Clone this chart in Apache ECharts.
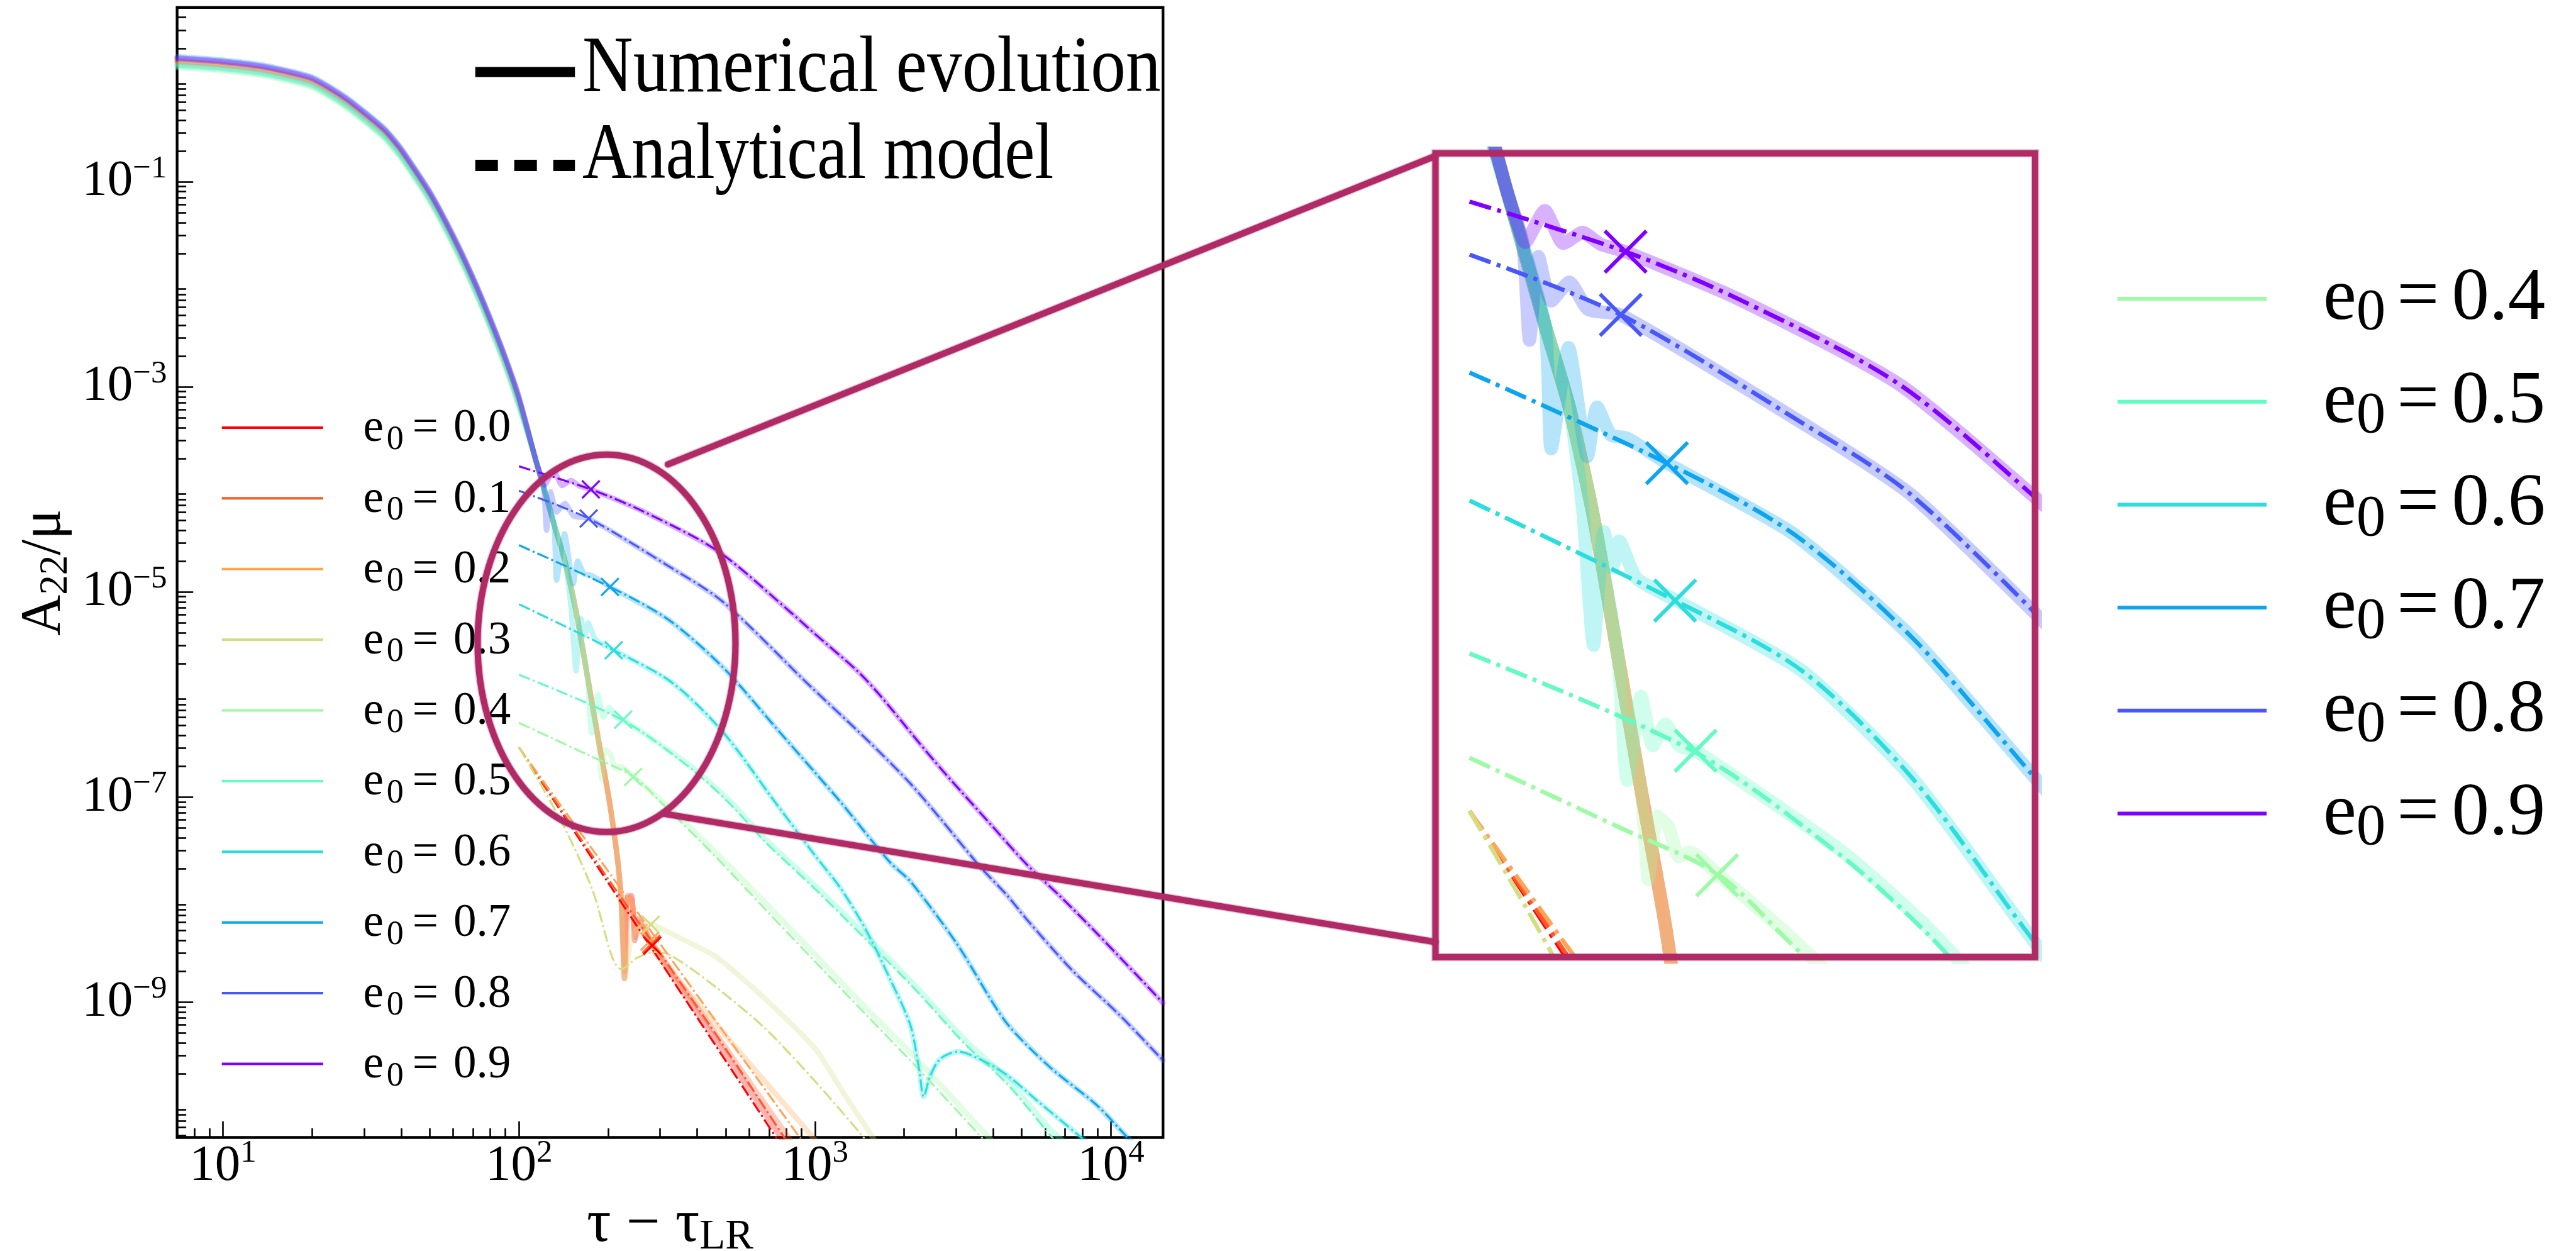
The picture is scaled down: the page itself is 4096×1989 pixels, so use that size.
<!DOCTYPE html>
<html>
<head>
<meta charset="utf-8">
<title>A22 tails</title>
<script src="https://cdn.jsdelivr.net/npm/echarts@6/dist/echarts.min.js"></script>
<style>
html,body{margin:0;padding:0;background:#ffffff;}
#chart{width:4096px;height:1989px;}
</style>
</head>
<body>
<div id="chart"></div>
<script>
// ---------------- data ----------------
const eccLabels = ['0.0','0.1','0.2','0.3','0.4','0.5','0.6','0.7','0.8','0.9'];
const eccColors = ['#ff0000','#ff572c','#ffa457','#d4dd80','#9cfba4','#63fbc3','#2bdddd','#0ea4f0','#4757fb','#8000ff'];

// common merger-ringdown trunk of the numerical evolutions
const trunkTau = [7, 10, 14, 20, 26, 35, 40, 50, 60, 70, 80, 90, 100, 114, 131, 143, 156, 170, 185, 202, 216];
const trunkAmp = [1.48, 1.37, 1.21, 0.94, 0.60, 0.30, 0.19, 0.072, 0.027, 0.0105, 4.2e-3, 1.75e-3, 7.2e-4, 1.93e-4, 4.7e-5, 2.0e-5, 6.4e-6, 1.56e-6, 3.8e-7, 9.2e-8, 2.3e-8];
// relative level of each e0 along the early trunk (spread of the band)
const trunkLevel = [1.0, 1.02, 0.98, 0.95, 0.88, 0.9, 0.93, 1.12, 1.07, 1.09];
// last trunk time used by each e0 before its own tail
const departTau = [216, 216, 216, 216, 185, 170, 143, 131, 114, 114];

// numerical evolution after leaving the trunk
const num0Tau = [222, 227, 231, 240, 246, 252, 282, 400, 600, 765, 800];
const num0Amp = [9e-9, 1.7e-9, 1.0e-8, 1.1e-8, 4.0e-9, 6.5e-9, 3.6e-9, 7.9e-10, 1.4e-10, 4.9e-11, 4.0e-11];
const num1Tau = [222, 228, 233, 241, 248, 256, 284, 420, 620, 810, 850];
const num1Amp = [9e-9, 2.0e-9, 1.1e-8, 1.0e-8, 4.3e-9, 6.0e-9, 3.7e-9, 7.4e-10, 1.47e-10, 4.9e-11, 3.9e-11];
const num2Tau = [222, 229, 235, 242, 250, 260, 284, 463, 681, 985, 1050];
const num2Amp = [9e-9, 1.8e-9, 1.0e-8, 9e-9, 4.6e-9, 5.6e-9, 3.2e-9, 6.1e-10, 1.66e-10, 4.8e-11, 3.9e-11];
const num3Tau = [222, 228, 240, 262, 280, 330, 463, 681, 1004, 1250, 1569, 1650];
const num3Amp = [9e-9, 1.7e-9, 4.2e-9, 6.0e-9, 5.8e-9, 4.6e-9, 2.77e-9, 1.07e-9, 3.5e-10, 1.3e-10, 4.8e-11, 3.7e-11];
const num4Tau = [190, 196, 204, 212, 220, 244, 313, 463, 681, 1004, 1486, 2183, 3545, 3900, 4100];
const num4Amp = [1.5e-7, 2.9e-7, 2.6e-7, 1.9e-7, 2.0e-7, 1.58e-7, 8.5e-8, 2.9e-8, 9.3e-9, 2.9e-9, 8.8e-10, 2.9e-10, 6.3e-11, 4.7e-11, 4.0e-11];
const num5Tau = [176, 185, 193, 202, 212, 225, 381, 514, 681, 1004, 1486, 2183, 3217, 4460, 6220, 6700, 7000];
const num5Amp = [4.2e-7, 1.0e-6, 6.0e-7, 7.5e-7, 6.0e-7, 5.7e-7, 2.0e-7, 9.3e-8, 3.9e-8, 1.36e-8, 4.5e-9, 1.45e-9, 4.3e-10, 1.8e-10, 5.8e-11, 4.8e-11, 4.2e-11];
const num6Tau = [150, 156, 162, 167, 171, 182, 211];
const num6Amp = [7e-6, 1.7e-6, 5.5e-6, 3.8e-6, 5.0e-6, 3.4e-6, 2.68e-6];
const num7Tau = [134, 142.6, 152.6, 158, 166, 176, 203];
const num7Amp = [1.3e-5, 3.7e-5, 1.2e-5, 2.0e-5, 1.5e-5, 1.45e-5, 1.12e-5];
const num8Tau = [121, 124, 128, 134, 143, 153, 172];
const num8Amp = [1.1e-4, 4.0e-5, 9.5e-5, 6.0e-5, 7.3e-5, 5.5e-5, 5.2e-5];
const num9Tau = [118, 122, 131, 140, 150, 160, 175];
const num9Amp = [1.4e-4, 1.1e-4, 1.53e-4, 1.09e-4, 1.22e-4, 1.08e-4, 1.0e-4];
// for these e0 the late numerical tail lies on the analytical curve
const numFollowsModel = [false, false, false, false, false, false, true, true, true, true];

// analytical model (dash-dot)
const ana0Tau = [100, 200, 282, 400, 600, 736, 780];
const ana0Amp = [3.05e-7, 1.47e-8, 3.3e-9, 7.1e-10, 1.2e-10, 4.9e-11, 3.8e-11];
const ana1Tau = [100, 200, 300, 500, 800, 840];
const ana1Amp = [3.05e-7, 1.6e-8, 3.0e-9, 3.5e-10, 4.5e-11, 3.7e-11];
const ana2Tau = [100, 200, 300, 500, 884, 930];
const ana2Amp = [3.05e-7, 1.9e-8, 3.7e-9, 4.8e-10, 4.9e-11, 4.0e-11];
const ana3Tau = [100, 139, 177, 207, 222, 250, 290, 330, 463, 681, 1004, 1452, 1520];
const ana3Amp = [3.05e-7, 5.8e-8, 1.25e-8, 2.7e-9, 2.1e-9, 2.7e-9, 3.1e-9, 2.8e-9, 1.4e-9, 5.5e-10, 1.68e-10, 4.9e-11, 4.0e-11];
const ana4Tau = [100, 170, 244, 313, 463, 681, 1004, 1486, 2183, 3545, 3800];
const ana4Amp = [5.3e-7, 2.6e-7, 1.58e-7, 8.0e-8, 2.6e-8, 8.0e-9, 2.47e-9, 7.6e-10, 2.4e-10, 5.3e-11, 4.2e-11];
const ana5Tau = [100, 225, 381, 514, 681, 1004, 1486, 2183, 3217, 4460, 6220, 6700];
const ana5Amp = [1.56e-6, 5.6e-7, 1.9e-7, 8.7e-8, 3.63e-8, 1.26e-8, 4.1e-9, 1.33e-9, 3.9e-10, 1.6e-10, 5.1e-11, 4.0e-11];
const ana6Tau = [100, 209, 330, 489, 726, 1000, 1219, 1486, 1796, 2100, 2250, 2330, 2450, 2650, 3050, 3500, 4400, 5690, 7870, 8600];
const ana6Amp = [7.6e-6, 2.7e-6, 1.3e-6, 4.3e-7, 9.3e-8, 2.7e-8, 1.3e-8, 5.1e-9, 1.67e-9, 6.0e-10, 2.2e-10, 1.2e-10, 1.9e-10, 2.8e-10, 3.3e-10, 2.9e-10, 2.0e-10, 1.07e-10, 4.9e-11, 3.9e-11];
const ana7Tau = [100, 203, 319, 489, 760, 1000, 1219, 1796, 2104, 3020, 4400, 6220, 8930, 11300, 12500];
const ana7Amp = [2.86e-5, 1.12e-5, 5.4e-6, 1.84e-6, 4.3e-7, 1.74e-7, 9.0e-8, 2.3e-8, 1.5e-8, 3.7e-9, 6.5e-10, 2.33e-10, 1.0e-10, 4.9e-11, 3.7e-11];
const ana8Tau = [100, 172, 319, 489, 949, 1365, 1663, 2104, 2650, 3612, 4460, 5200, 7460, 10700, 15000];
const ana8Amp = [9.7e-5, 5.2e-5, 1.8e-5, 8.0e-6, 1.26e-6, 4.7e-7, 2.7e-7, 1.35e-7, 6.2e-8, 2.1e-8, 1.1e-8, 6.4e-9, 2.0e-9, 7.5e-10, 2.7e-10];
const ana9Tau = [100, 175, 263, 470, 830, 1000, 1390, 1650, 2400, 2860, 4000, 5200, 6800, 8900, 12800, 15000];
const ana9Amp = [1.68e-4, 1.0e-4, 6.1e-5, 2.5e-5, 6.3e-6, 3.9e-6, 1.7e-6, 1.0e-6, 2.7e-7, 1.5e-7, 5.1e-8, 2.2e-8, 1.05e-8, 4.8e-9, 1.6e-9, 9.8e-10];

// cross markers
const crossTau = [282, 280, 276, 279, 243, 225, 209, 203, 172, 175];
const crossAmp = [3.56e-9, 3.7e-9, 3.9e-9, 5.7e-9, 1.57e-7, 5.7e-7, 2.7e-6, 1.12e-5, 5.2e-5, 1.0e-4];

// axes
const xRange = [7, 15000];
const yRange = [4.8e-11, 5];
const insetXRange = [88.5, 760];
const insetYRange = [6.73e-8, 2.77e-4];
const xMajorTicks = [10, 100, 1000, 10000];
const xTickExps = ['1', '2', '3', '4'];
const yMajorTicks = [1e-9, 1e-7, 1e-5, 1e-3, 1e-1];
const yTickExps = ['\u22129', '\u22127', '\u22125', '\u22123', '\u22121'];
const xTitle = '{t|\u03c4 \u2212 \u03c4}{s|LR}';
const yTitle = '{a|A}{s|22}{a|/\u03bc}';
const legendNumerical = 'Numerical evolution';
const legendAnalytical = 'Analytical model';
const inlineLegendIdx = [0,1,2,3,4,5,6,7,8,9];
const sideLegendIdx = [4,5,6,7,8,9];

// ---------------- layout ----------------
const FONT = 'Liberation Serif';
const MAROON = '#b02a66';
const MAIN = {left: 281.6, top: 11.9, width: 1567.7, height: 1796.6};
const INSET = {left: 2282.5, top: 243.7, width: 953.4, height: 1278};

const numTauSets = [num0Tau,num1Tau,num2Tau,num3Tau,num4Tau,num5Tau,num6Tau,num7Tau,num8Tau,num9Tau];
const numAmpSets = [num0Amp,num1Amp,num2Amp,num3Amp,num4Amp,num5Amp,num6Amp,num7Amp,num8Amp,num9Amp];
const anaTauSets = [ana0Tau,ana1Tau,ana2Tau,ana3Tau,ana4Tau,ana5Tau,ana6Tau,ana7Tau,ana8Tau,ana9Tau];
const anaAmpSets = [ana0Amp,ana1Amp,ana2Amp,ana3Amp,ana4Amp,ana5Amp,ana6Amp,ana7Amp,ana8Amp,ana9Amp];

function numericPoints(k) {
  const pts = [];
  trunkTau.forEach((t, i) => { if (t <= departTau[k]) pts.push([t, trunkAmp[i] * (t < 114 ? trunkLevel[k] : 1)]); });
  numTauSets[k].forEach((t, i) => pts.push([t, numAmpSets[k][i]]));
  if (numFollowsModel[k]) {
    const last = numTauSets[k][numTauSets[k].length - 1];
    anaTauSets[k].forEach((t, i) => { if (t > last) pts.push([t, anaAmpSets[k][i]]); });
  }
  return pts;
}
function analyticPoints(k) { return anaTauSets[k].map((t, i) => [t, anaAmpSets[k][i]]); }

function minorTicks(lo, hi, e0, e1) {
  const out = [];
  for (let e = e0; e <= e1; e++) for (let m = 2; m <= 9; m++) {
    const v = m * Math.pow(10, e);
    if (v >= lo * 0.9999 && v <= hi * 1.0001) out.push(v);
  }
  return out;
}
const xMinorTicks = minorTicks(xRange[0], xRange[1], 0, 4);
const yMinorTicks = minorTicks(yRange[0], yRange[1], -11, 0);

function expLabel(ticks, exps) {
  return function (v) {
    for (let i = 0; i < ticks.length; i++) {
      if (Math.abs(Math.log10(v) - Math.log10(ticks[i])) < 1e-6) return '{b|10}{s|' + exps[i] + '}';
    }
    return '';
  };
}
const tickRich = {
  b: {fontFamily: FONT, fontSize: 81, color: '#000'},
  s: {fontFamily: FONT, fontSize: 51, color: '#000', padding: [0, 0, 41, 0]}
};

function panelSeries(panel) {
  const ax = panel === 'main' ? 0 : 2;
  const numW = panel === 'main' ? 8.5 : 21;
  const anaW = panel === 'main' ? 3.2 : 6.8;
  const dash = panel === 'main' ? [19, 5, 3.2, 5] : [36, 10, 6.5, 10];
  const half = panel === 'main' ? 14 : 33;
  const xw = panel === 'main' ? 3.2 : 6;
  const list = [];
  for (let k = 0; k < 10; k++) {
    list.push({
      type: 'line', name: 'num ' + eccLabels[k] + ' ' + panel, xAxisIndex: ax, yAxisIndex: ax,
      data: numericPoints(k), showSymbol: false, symbol: 'none', smooth: 0.2, silent: true,
      lineStyle: {color: eccColors[k], width: numW, opacity: 0.3, cap: 'round', join: 'round'}, z: 2
    });
  }
  for (let k = 0; k < 10; k++) {
    list.push({
      type: 'line', name: 'model ' + eccLabels[k] + ' ' + panel, xAxisIndex: ax, yAxisIndex: ax,
      data: analyticPoints(k), showSymbol: false, symbol: 'none', smooth: 0.3, silent: true,
      lineStyle: {color: eccColors[k], width: anaW, type: dash, cap: 'butt'}, z: 3
    });
  }
  const crossData = [];
  for (let k = 9; k >= 0; k--) crossData.push([crossTau[k], crossAmp[k], k]);
  list.push({
    type: 'custom', name: 'cross ' + panel, xAxisIndex: ax, yAxisIndex: ax, clip: true, silent: true, z: 4,
    data: crossData,
    renderItem: function (params, api) {
      const p = api.coord([api.value(0), api.value(1)]);
      const col = eccColors[api.value(2)];
      return {type: 'group', children: [
        {type: 'line', shape: {x1: p[0]-half, y1: p[1]-half, x2: p[0]+half, y2: p[1]+half}, style: {stroke: col, lineWidth: xw}},
        {type: 'line', shape: {x1: p[0]-half, y1: p[1]+half, x2: p[0]+half, y2: p[1]-half}, style: {stroke: col, lineWidth: xw}}
      ]};
    }
  });
  return list;
}

const option = {
  animation: false,
  backgroundColor: '#ffffff',
  textStyle: {fontFamily: FONT},
  grid: [
    {left: MAIN.left, top: MAIN.top, width: MAIN.width, height: MAIN.height, show: true,
     borderColor: '#000', borderWidth: 4.3, backgroundColor: 'transparent', containLabel: false, outerBoundsMode: 'none'},
    {left: INSET.left, top: INSET.top, width: INSET.width, height: INSET.height, show: false, containLabel: false, outerBoundsMode: 'none'}
  ],
  xAxis: [
    {gridIndex: 0, type: 'log', logBase: 10, min: xRange[0], max: xRange[1], position: 'bottom',
     axisLine: {show: false}, splitLine: {show: false}, minorTick: {show: false}, minorSplitLine: {show: false},
     axisTick: {show: true, inside: true, length: 25.6, lineStyle: {color: '#000', width: 2.6}, customValues: xMajorTicks},
     axisLabel: {show: true, margin: 0, customValues: xMajorTicks, formatter: expLabel(xMajorTicks, xTickExps), rich: tickRich},
     name: xTitle, nameLocation: 'middle', nameGap: 77,
     nameTextStyle: {rich: {
       t: {fontFamily: FONT, fontSize: 96, color: '#000'},
       s: {fontFamily: FONT, fontSize: 67, color: '#000', padding: [39, 0, 0, 0]}
     }}},
    {gridIndex: 0, type: 'log', logBase: 10, min: xRange[0], max: xRange[1], position: 'bottom',
     axisLine: {show: false}, splitLine: {show: false}, axisLabel: {show: false},
     axisTick: {show: true, inside: true, length: 14.5, lineStyle: {color: '#000', width: 2.6}, customValues: xMinorTicks}},
    {gridIndex: 1, type: 'log', logBase: 10, min: insetXRange[0], max: insetXRange[1], show: false, splitLine: {show: false}}
  ],
  yAxis: [
    {gridIndex: 0, type: 'log', logBase: 10, min: yRange[0], max: yRange[1], position: 'left',
     axisLine: {show: false}, splitLine: {show: false}, minorTick: {show: false}, minorSplitLine: {show: false},
     axisTick: {show: true, inside: true, length: 25.6, lineStyle: {color: '#000', width: 2.6}, customValues: yMajorTicks},
     axisLabel: {show: true, margin: 16, customValues: yMajorTicks, formatter: expLabel(yMajorTicks, yTickExps), rich: tickRich},
     name: yTitle, nameLocation: 'middle', nameGap: 161,
     nameTextStyle: {rich: {
       a: {fontFamily: FONT, fontSize: 90, color: '#000'},
       s: {fontFamily: FONT, fontSize: 63, color: '#000', padding: [36, 0, 0, 0]}
     }}},
    {gridIndex: 0, type: 'log', logBase: 10, min: yRange[0], max: yRange[1], position: 'left',
     axisLine: {show: false}, splitLine: {show: false}, axisLabel: {show: false},
     axisTick: {show: true, inside: true, length: 14.5, lineStyle: {color: '#000', width: 2.6}, customValues: yMinorTicks}},
    {gridIndex: 1, type: 'log', logBase: 10, min: insetYRange[0], max: insetYRange[1], show: false, splitLine: {show: false}}
  ],
  series: panelSeries('main').concat(panelSeries('inset'))
};

const chart = echarts.init(document.getElementById('chart'), null, {renderer: 'canvas', width: 4096, height: 1989});
chart.setOption(option);

// ---------------- annotations and legends ----------------
const ellipseCentre = chart.convertToPixel({xAxisIndex: 0, yAxisIndex: 0}, [197.7, 3.16e-6]);
const cx = ellipseCentre[0], cy = ellipseCentre[1];
const g = [];
function tok(size, pad) {
  const t = {fontFamily: FONT, fontSize: size, fill: '#000'};
  if (pad) t.padding = pad;
  return t;
}
function txt(x, y, text, rich, size) {
  return {type: 'text', x: x, y: y, z: 60, silent: true,
    style: {text: text, rich: rich, x: 0, y: 0, fontFamily: FONT, fontSize: size, align: 'left', verticalAlign: 'middle', fill: '#000'}};
}
// top-right legend of line styles
g.push({type: 'line', z: 60, silent: true, shape: {x1: 755.7, y1: 114.5, x2: 914.2, y2: 114.5}, style: {stroke: '#000', lineWidth: 16}});
g.push({type: 'text', x: 926.1, y: 111.7, z: 60, silent: true, scaleX: 0.885,
  style: {text: legendNumerical, x: 0, y: 0, fontFamily: FONT, fontSize: 126, fill: '#000', align: 'left', verticalAlign: 'middle'}});
g.push({type: 'line', z: 60, silent: true, shape: {x1: 755.7, y1: 263, x2: 914.2, y2: 263}, style: {stroke: '#000', lineWidth: 18, lineDash: [36, 26]}});
g.push({type: 'text', x: 926.1, y: 250.3, z: 60, silent: true, scaleX: 0.86,
  style: {text: legendAnalytical, x: 0, y: 0, fontFamily: FONT, fontSize: 126, fill: '#000', align: 'left', verticalAlign: 'middle'}});

const smallRich = {e: tok(73), s: tok(54, [35, 0, 0, 5]), q: tok(73, [0, 24, 0, 14]), v: tok(73)};
inlineLegendIdx.forEach((k, j) => {
  const y = 679.9 + j * 112.4;
  g.push({type: 'line', z: 60, silent: true, shape: {x1: 352.7, y1: y, x2: 513.8, y2: y}, style: {stroke: eccColors[k], lineWidth: 4}});
  g.push(txt(577.4, y + 2.4, '{e|e}{s|0}{q|=}{v|' + eccLabels[k] + '}', smallRich, 73));
});
const bigRich = {e: tok(119), s: tok(93, [46, 0, 0, 0]), q: tok(119, [0, 20, 0, 18]), v: tok(119)};
sideLegendIdx.forEach((k, j) => {
  const y = 475 + j * 163.7;
  g.push({type: 'line', z: 60, silent: true, shape: {x1: 3367, y1: y, x2: 3604, y2: y}, style: {stroke: eccColors[k], lineWidth: 6}});
  g.push(txt(3694, y + 0.8, '{e|e}{s|0}{q|=}{v|' + eccLabels[k] + '}', bigRich, 119));
});

// zoom annotation (ellipse, connectors, inset frame)
const annStyle = {stroke: MAROON, lineWidth: 10, fill: 'none', lineCap: 'round'};
const fuzzStyle = {stroke: MAROON, lineWidth: 13, fill: 'none', opacity: 0.3, lineCap: 'round'};
g.push({type: 'ellipse', z: 80, silent: true, shape: {cx: cx, cy: cy, rx: 205, ry: 300}, style: fuzzStyle});
g.push({type: 'ellipse', z: 81, silent: true, shape: {cx: cx, cy: cy, rx: 205, ry: 300}, style: annStyle});
const conn = [
  [cx + 97.5, cy - 284.4, INSET.left, INSET.top + 4.3],
  [cx + 90.3, cy + 270.8, INSET.left, INSET.top + INSET.height - 23.9]
];
conn.forEach(c => {
  g.push({type: 'line', z: 80, silent: true, shape: {x1: c[0], y1: c[1], x2: c[2], y2: c[3]}, style: fuzzStyle});
  g.push({type: 'line', z: 81, silent: true, shape: {x1: c[0], y1: c[1], x2: c[2], y2: c[3]}, style: annStyle});
});
g.push({type: 'rect', z: 80, silent: true, shape: {x: INSET.left, y: INSET.top, width: INSET.width, height: INSET.height}, style: fuzzStyle});
g.push({type: 'rect', z: 81, silent: true, shape: {x: INSET.left, y: INSET.top, width: INSET.width, height: INSET.height}, style: annStyle});

chart.setOption({graphic: {elements: g}});
</script>
</body>
</html>
